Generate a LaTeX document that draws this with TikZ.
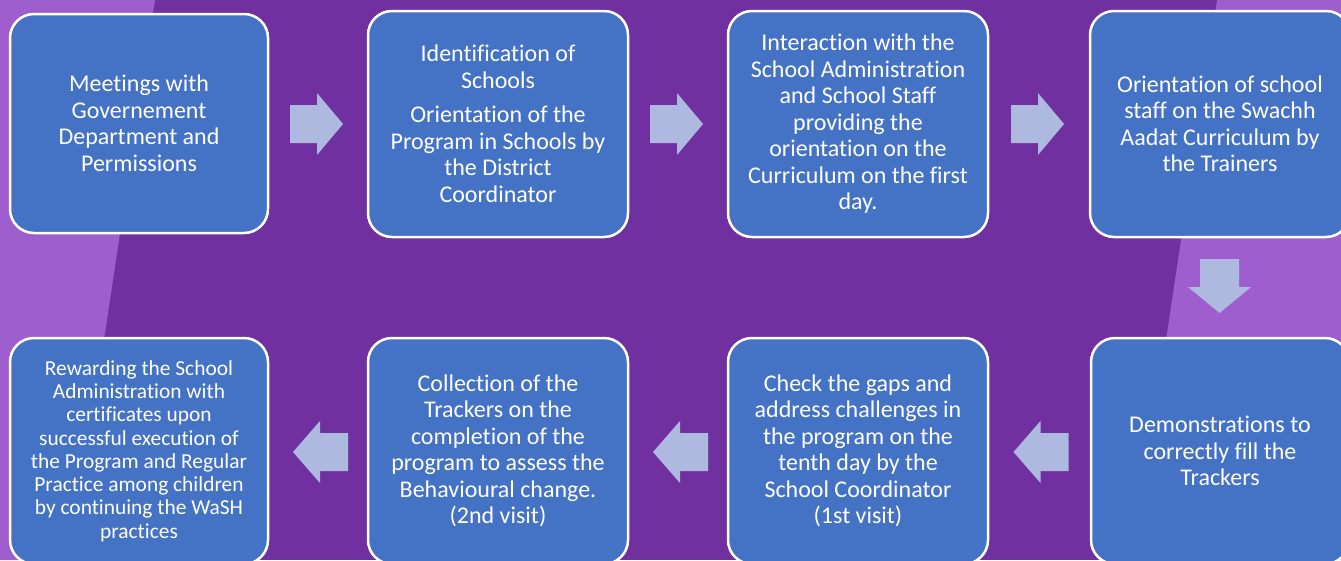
\documentclass[tikz,border=0pt]{standalone}
\usepackage{fontspec}
\setmainfont[Ligatures={NoCommon}]{Carlito}
\definecolor{bgdark}{HTML}{7030A0}
\definecolor{bglight}{HTML}{9E5ECE}
\definecolor{boxblue}{HTML}{4472C4}
\definecolor{arrowfill}{HTML}{ADB9DE}
\begin{document}
\begin{tikzpicture}[x=1pt,y=-1pt,
  box/.style={draw=white, line width=2.5pt, fill=boxblue, rounded corners=24pt,
    text=white, align=center, inner sep=2pt, minimum width=260pt, minimum height=226pt,
    font=\fontsize{24}{26.5}\selectfont},
  rarrow/.pic={\fill[arrowfill] (-26.5,-19) -- (0.5,-19) -- (0.5,-31) -- (26.5,0) -- (0.5,31) -- (0.5,19) -- (-26.5,19) -- cycle;},
  larrow/.pic={\fill[arrowfill] (27.5,-19) -- (-0.5,-19) -- (-0.5,-31) -- (-27.5,0) -- (-0.5,31) -- (-0.5,19) -- (27.5,19) -- cycle;},
  darrow/.pic={\fill[arrowfill] (-19.5,-27) -- (19.5,-27) -- (19.5,1) -- (31.5,1) -- (0,27) -- (-31.5,1) -- (-19.5,1) -- cycle;}]
\useasboundingbox (0,0) rectangle (1341,560);
\clip (0,0) rectangle (1341,560);
\fill[bgdark] (0,0) rectangle (1341,560);
\fill[bglight] (0,0) -- (155,0) -- (71,560) -- (0,560) -- cycle;
\fill[bglight] (1217,0) -- (1341,0) -- (1341,560) -- (1133,560) -- cycle;

% row 1
\node[box, minimum width=258pt, minimum height=219pt] (b1) at (139,123.5)
  {Meetings with\\Governement\\Department and\\Permissions};
\node[box] (b2) at (498,124)
  {Identification of\\Schools\\[8pt]Orientation of the\\Program in Schools by\\the District\\Coordinator};
\node[box] (b3) at (858,124)
  {Interaction with the\\School Administration\\and School Staff\\providing the\\orientation on the\\Curriculum on the first\\day.};
\node[box] (b4) at (1220,124)
  {Orientation of school\\staff on the Swachh\\Aadat Curriculum by\\the Trainers};

% row 2
\node[box, minimum width=258pt] (c4) at (1220,451)
  {Demonstrations to\\correctly fill the\\Trackers};
\node[box] (c3) at (858,451)
  {Check the gaps and\\address challenges in\\the program on the\\tenth day by the\\School Coordinator\\(1st visit)};
\node[box] (c2) at (498,451)
  {Collection of the\\Trackers on the\\completion of the\\program to assess the\\Behavioural change.\\(2nd visit)};
\node[box, minimum width=258pt, font=\fontsize{21.4}{23.3}\selectfont] (c1) at (139,451)
  {Rewarding the School\\Administration with\\certificates upon\\successful execution of\\the Program and Regular\\Practice among children\\by continuing the WaSH\\practices};

% block arrows
\pic at (316.5,124) {rarrow};
\pic at (676.5,124) {rarrow};
\pic at (1037.5,124) {rarrow};
\pic at (1219.5,286) {darrow};
\pic at (1041,452) {larrow};
\pic at (680.5,452) {larrow};
\pic at (320.5,452) {larrow};
\end{tikzpicture}
\end{document}
